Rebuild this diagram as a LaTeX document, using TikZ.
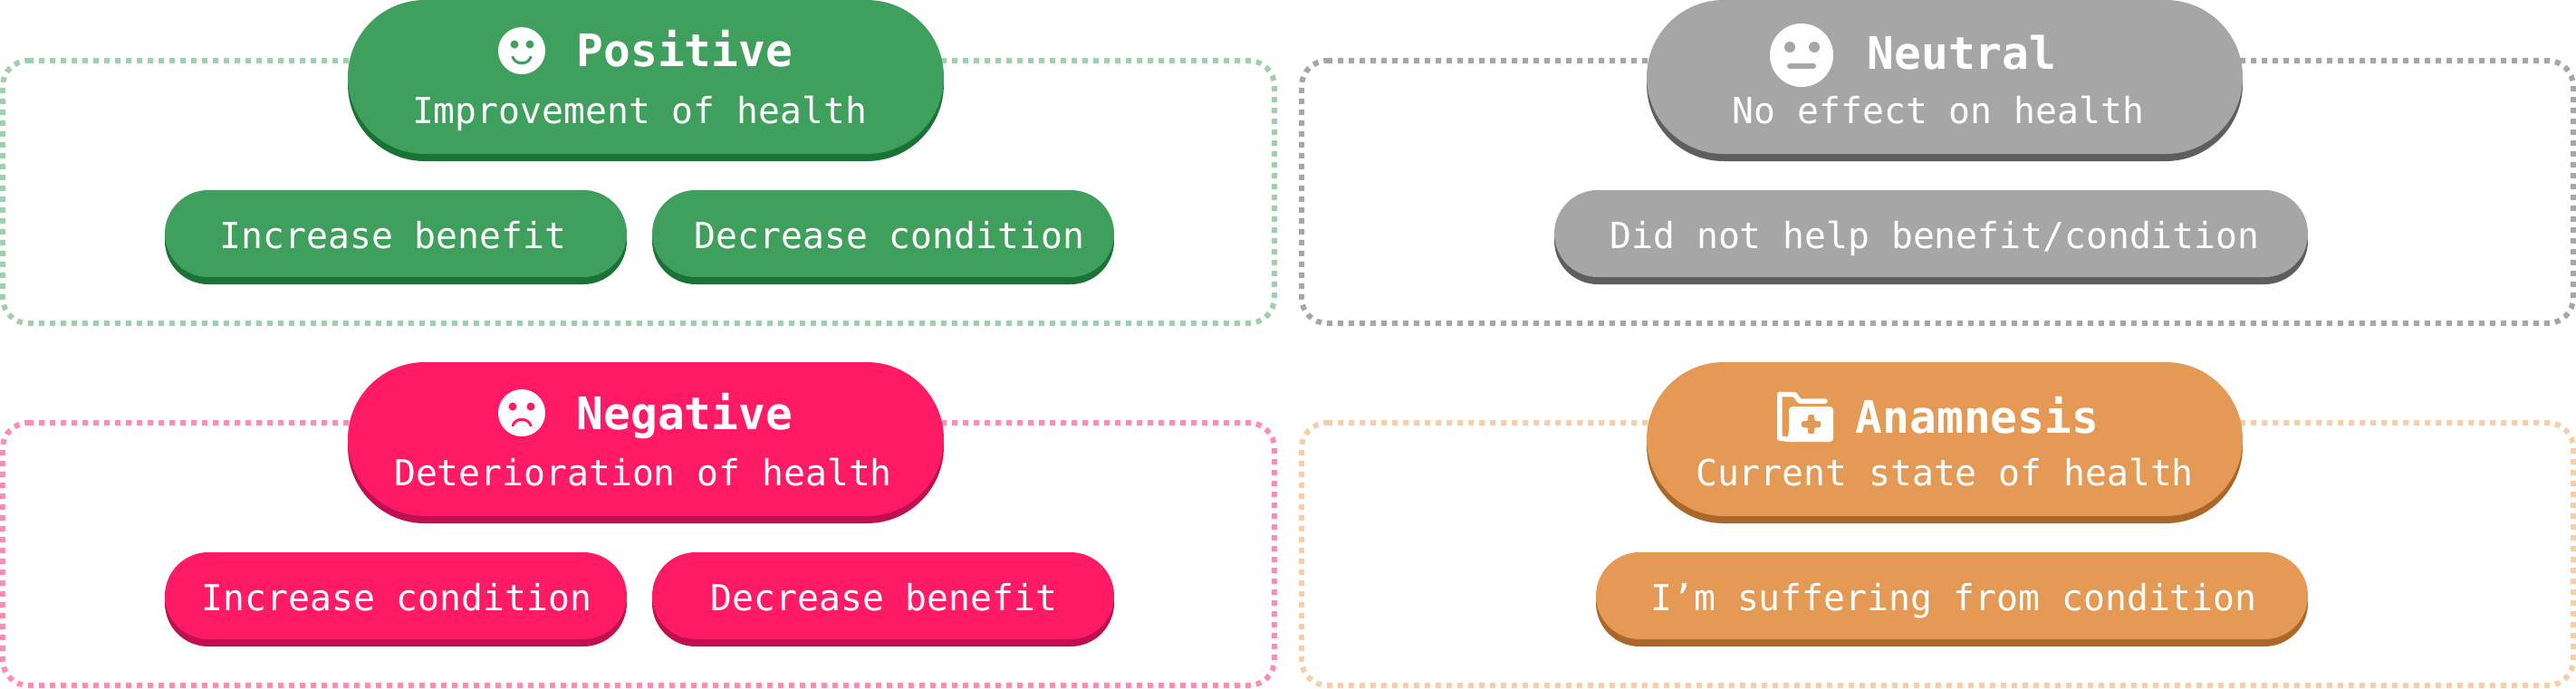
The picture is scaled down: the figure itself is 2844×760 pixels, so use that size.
\documentclass[tikz,border=0pt]{standalone}
\usepackage{fontspec}
\setmonofont{DejaVu Sans Mono}
\usetikzlibrary{shapes.misc,shadows}
\definecolor{gA}{HTML}{3F9F5C}\definecolor{gB}{HTML}{1A7334}\definecolor{gC}{HTML}{9FD0AE}
\definecolor{nA}{HTML}{A6A6A6}\definecolor{nB}{HTML}{5E5E5E}\definecolor{nC}{HTML}{A6A6A6}
\definecolor{pA}{HTML}{FF1A66}\definecolor{pB}{HTML}{C00F50}\definecolor{pC}{HTML}{FF8CB2}
\definecolor{oA}{HTML}{E49A54}\definecolor{oB}{HTML}{AB672A}\definecolor{oC}{HTML}{F5CFA8}
\tikzset{
  x=1pt,y=-1pt,
  groupframe/.style={line width=6pt,dash pattern=on 6pt off 6pt,rounded corners=28pt,draw=#1},
  bigpill/.style 2 args={rounded rectangle,inner sep=0pt,minimum height=170pt,minimum width=658pt,fill=#1,general shadow={fill=#2,shadow yshift=-8pt}},
  smallpill/.style n args={3}{rounded rectangle,inner sep=0pt,minimum height=96pt,minimum width=#3,fill=#1,general shadow={fill=#2,shadow yshift=-8pt}},
  titletext/.style={anchor=base,inner sep=0pt,text=white,font=\ttfamily\bfseries\fontsize{49.5}{58}\selectfont},
  bodytext/.style={anchor=base,inner sep=0pt,text=white,font=\ttfamily\fontsize{39.7}{48}\selectfont},
}
\begin{document}
\begin{tikzpicture}
\useasboundingbox (0,0) rectangle (2844,760);
% group frames
\draw[groupframe=gC] (31,67) -- (1407,67) -- (1407,357) -- (3,357) -- (3,67) -- (31,67);
\draw[groupframe=nC] (1465,67) -- (2841,67) -- (2841,357) -- (1437,357) -- (1437,67) -- (1465,67);
\draw[groupframe=pC] (31,467) -- (1407,467) -- (1407,757) -- (3,757) -- (3,467) -- (31,467);
\draw[groupframe=oC] (1465,467) -- (2841,467) -- (2841,757) -- (1437,757) -- (1437,467) -- (1465,467);
% headers
\node[bigpill={gA}{gB}] (pos) at (713,85) {};
\node[bigpill={nA}{nB}] (neu) at (2147,85) {};
\node[bigpill={pA}{pB}] (neg) at (713,485) {};
\node[bigpill={oA}{oB}] (ana) at (2147,485) {};
% small pills
\node[smallpill={gA}{gB}{510pt}] (posinc) at (437,258) {};
\node[smallpill={gA}{gB}{510pt}] (posdec) at (975,258) {};
\node[smallpill={nA}{nB}{832pt}] (neuhelp) at (2132,258) {};
\node[smallpill={pA}{pB}{510pt}] (neginc) at (437,658) {};
\node[smallpill={pA}{pB}{510pt}] (negdec) at (975,658) {};
\node[smallpill={oA}{oB}{786pt}] (anasuf) at (2155,658) {};
% text
\node[titletext] (posT) at (756,74) {Positive};
\node[bodytext] (posS) at (706,136) {Improvement of health};
\node[titletext] (neuT) at (2166,77) {Neutral};
\node[bodytext] (neuS) at (2140,136) {No effect on health};
\node[titletext] (negT) at (756,474) {Negative};
\node[bodytext] (negS) at (710,536) {Deterioration of health};
\node[titletext] (anaT) at (2183,478) {Anamnesis};
\node[bodytext] (anaS) at (2147,536) {Current state of health};
\node[bodytext] (posincT) at (434,274) {Increase benefit};
\node[bodytext] (posdecT) at (982,274) {Decrease condition};
\node[bodytext] (neuhelpT) at (2136,274) {Did not help benefit/condition};
\node[bodytext] (negincT) at (438,674) {Increase condition};
\node[bodytext] (negdecT) at (976,674) {Decrease benefit};
\node[bodytext] (anasufT) at (2157,674) {I’m suffering from condition};
% positive face
\fill[white] (576,56) circle[radius=26pt];
\fill[gA] (568,49) circle[radius=4.5pt] (585,49) circle[radius=4.5pt];
\draw[gA,line width=3pt,line cap=round] (566,63) .. controls (569,72) and (583,72) .. (586,63);
% negative face
\fill[white] (576,456) circle[radius=26pt];
\fill[pA] (566,449) circle[radius=4.5pt] (586,449) circle[radius=4.5pt];
\draw[pA,line width=3pt,line cap=round] (566,470) .. controls (569,461) and (583,461) .. (586,470);
% neutral face
\fill[white] (1989,61) circle[radius=35pt];
\fill[nA] (1976,52) circle[radius=6pt] (2003,52) circle[radius=6pt];
\draw[nA,line width=6pt,line cap=round] (1976,73) -- (2002,73);
% folder icon
\draw[white,line width=5.5pt,line cap=round,line join=round] (2015,443) -- (1987,443) -- (1981,435.5) -- (1964.8,435.5) -- (1964.8,484) -- (1976,485.5);
\fill[white,rounded corners=4pt] (1975,449) -- (2024,449) -- (2024,488) -- (1972,488) -- (1975,478) -- cycle;
\fill[oA,rounded corners=1.5pt] (1996,458) -- (2003,458) -- (2003,465) -- (2010,465) -- (2010,472) -- (2003,472) -- (2003,479) -- (1996,479) -- (1996,472) -- (1989,472) -- (1989,465) -- (1996,465) -- cycle;
\end{tikzpicture}
\end{document}
